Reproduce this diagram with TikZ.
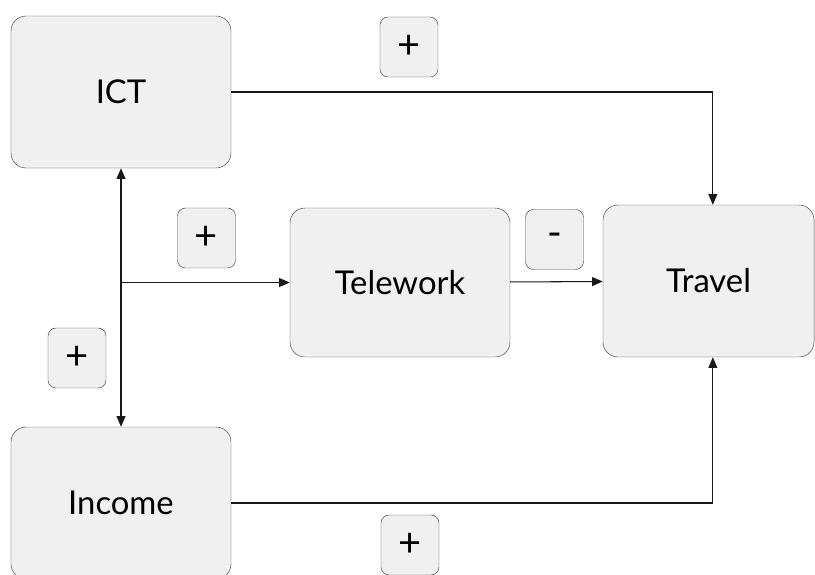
\documentclass[tikz,border=0pt]{standalone}
\usepackage{fontspec}
\setmainfont{Lato}
\usetikzlibrary{arrows.meta}
\definecolor{boxfill}{HTML}{F0F0F0}
\definecolor{boxline}{HTML}{404040}
\begin{document}
\begin{tikzpicture}[x=0.03cm,y=-0.03cm,
		factor/.style={draw=boxline,fill=boxfill,rectangle,rounded corners=0.45cm,minimum width=6.6cm,minimum height=4.56cm,font=\fontsize{28}{32}\selectfont},
		sign/.style={draw=boxline,fill=boxfill,rectangle,rounded corners=0.24cm,minimum width=1.74cm,minimum height=1.8cm,font=\fontsize{34}{38}\selectfont},
		link/.style={draw=black!90,line width=0.9pt,-{Triangle[length=9pt,width=7.5pt]}}]
		\useasboundingbox (0,0) rectangle (815,574);
		% factors of the model
		\node[factor] (ict) at (121,92) {ICT};
		\node[factor,minimum height=4.47cm] (telework) at (400,282.5) {Telework};
		\node[factor,minimum width=6.33cm] (travel) at (708.5,281) {Travel};
		\node[factor] (income) at (121,503) {Income};

		% signs of the effects
		\node[sign] (s1) at (409,47) {+};
		\node[sign] (s2) at (206.5,238) {+};
		\node[sign] (s3) at (554.5,239.5) {-};
		\node[sign] (s4) at (77,358) {+};
		\node[sign] (s5) at (410,545) {+};

		\coordinate (split) at (ict.south |- telework.west);
		\draw[link] (split) -- (ict.south);
		\draw[link] (split) -- (income.north);
		\draw[link] (split) -- (telework.west);
		\draw[link] (telework) -- (travel);
		\draw[link] (ict.east) -| ([xshift=0.13cm]travel.north);
		\draw[link] (income.east) -| ([xshift=0.13cm]travel.south);
	\end{tikzpicture}
\end{document}
